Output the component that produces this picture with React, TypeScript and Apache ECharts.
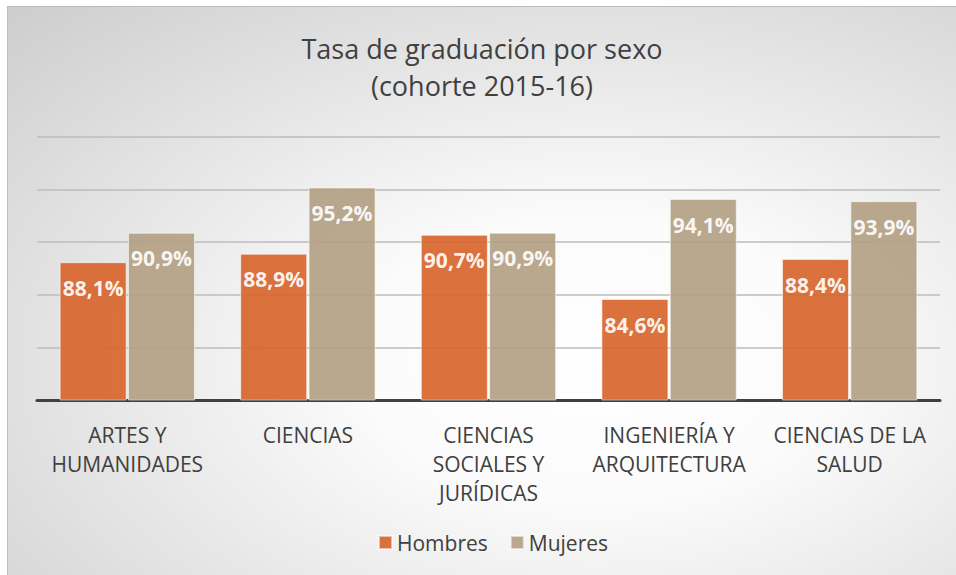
import React, { useEffect, useRef } from "react";
import * as echarts from "echarts";

const categories = [
  "ARTES Y\nHUMANIDADES",
  "CIENCIAS",
  "CIENCIAS\nSOCIALES Y\nJURÍDICAS",
  "INGENIERÍA Y\nARQUITECTURA",
  "CIENCIAS DE LA\nSALUD",
];
const hombres = [88.1, 88.9, 90.7, 84.6, 88.4];
const mujeres = [90.9, 95.2, 90.9, 94.1, 93.9];
const seriesNames = ["Hombres", "Mujeres"];

const FONT = "'Open Sans', 'Noto Sans', sans-serif";

export default function App() {
  const ref = useRef<HTMLDivElement>(null);
  useEffect(() => {
    if (!ref.current) return;
    const chart = echarts.init(ref.current, null, { renderer: "svg" });
    const fmt = (p: any) => p.value.toFixed(1).replace(".", ",") + "%";
    const labelCfg = {
      show: true,
      position: "insideTop" as const,
      distance: 15,
      color: "#ffffff",
      fontFamily: FONT,
      fontWeight: "bold" as const,
      fontSize: 21,
      formatter: fmt,
    };
    chart.setOption({
      animation: false,
      backgroundColor: {
        type: "radial",
        x: 0.62,
        y: 0.62,
        r: 1.0,
        colorStops: [
          { offset: 0, color: "#ffffff" },
          { offset: 0.25, color: "#fbfbfb" },
          { offset: 1, color: "#c4c4c4" },
        ],
      },
      title: {
        text: "Tasa de graduación por sexo\n(cohorte 2015-16)",
        left: "center",
        top: 18,
        textStyle: {
          fontFamily: FONT,
          fontWeight: "normal",
          fontSize: 27,
          lineHeight: 37,
          color: "#404040",
        },
      },
      legend: {
        data: seriesNames,
        bottom: 17,
        left: 365,
        icon: "rect",
        itemWidth: 13,
        itemHeight: 13,
        itemGap: 22,
        textStyle: { fontFamily: FONT, fontSize: 21, color: "#404040" },
      },
      grid: { left: 29, right: 16, top: 130, bottom: 175, containLabel: false },
      xAxis: {
        type: "category",
        data: categories,
        axisLine: { lineStyle: { color: "#404040", width: 3 } },
        axisTick: { show: false },
        axisLabel: {
          margin: 20,
          fontFamily: FONT,
          fontSize: 21,
          lineHeight: 29,
          color: "#404040",
          interval: 0,
        },
      },
      yAxis: {
        type: "value",
        min: 75,
        max: 100,
        interval: 5,
        axisLabel: { show: false },
        axisLine: { show: false },
        axisTick: { show: false },
        splitLine: { lineStyle: { color: "#bdbdbd", width: 1.5 } },
      },
      series: [
        {
          name: seriesNames[0],
          type: "bar",
          data: hombres,
          barWidth: 67,
          barGap: "2%",
          itemStyle: {
            color: "#d8652c",
            opacity: 0.92,
            borderColor: "rgba(255,255,255,0.6)",
            borderWidth: 1,
          },
          label: labelCfg,
        },
        {
          name: seriesNames[1],
          type: "bar",
          data: mujeres,
          barWidth: 67,
          itemStyle: {
            color: "#b3a183",
            opacity: 0.92,
            borderColor: "rgba(255,255,255,0.6)",
            borderWidth: 1,
          },
          label: labelCfg,
        },
      ],
    });
    return () => chart.dispose();
  }, []);
  return (
    <div
      style={{
        position: "absolute",
        left: 7,
        top: 6,
        borderLeft: "1px solid #bdbdbd",
        borderTop: "1px solid #bdbdbd",
      }}
    >
      <div ref={ref} style={{ width: 948, height: 568 }} />
    </div>
  );
}
